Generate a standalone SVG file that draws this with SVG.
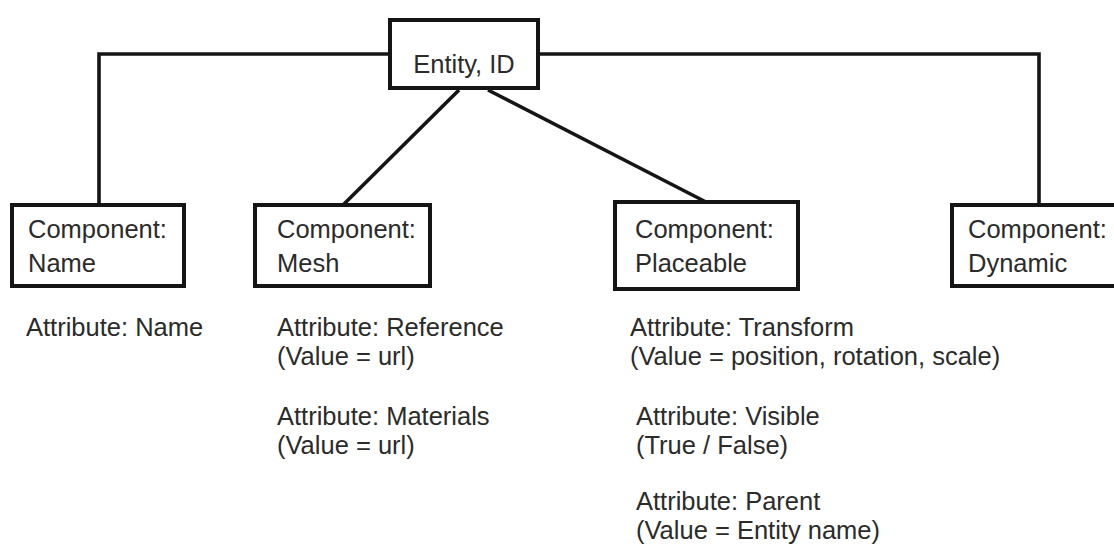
<svg xmlns="http://www.w3.org/2000/svg" width="1114" height="548" viewBox="0 0 1114 548">
<style>
.box{fill:#fff;stroke:#151515;stroke-width:4}
.con{fill:none;stroke:#151515;stroke-width:3.6}
text{font-family:"Liberation Sans",Arial,sans-serif;font-size:25.5px;fill:#2b2b2b}
</style>
<rect width="1114" height="548" fill="#fff"/>
<g id="connectors">
<path class="con" d="M390,54 H99 V205"/>
<path class="con" d="M538,54 H1039 V205"/>
<path class="con" d="M459,90 L343,205"/>
<path class="con" d="M488,90 L706,202"/>
</g>
<g id="entity">
<rect class="box" x="390" y="20" width="148" height="68"/>
<text x="464" y="73" text-anchor="middle">Entity, ID</text>
</g>
<g id="comp-name">
<rect class="box" x="12" y="205" width="172" height="81"/>
<text x="28" y="238">Component:</text>
<text x="28" y="272">Name</text>
</g>
<g id="comp-mesh">
<rect class="box" x="255" y="205" width="175" height="81"/>
<text x="277" y="238">Component:</text>
<text x="277" y="272">Mesh</text>
</g>
<g id="comp-placeable">
<rect class="box" x="615" y="202" width="183" height="87"/>
<text x="635" y="238">Component:</text>
<text x="635" y="272">Placeable</text>
</g>
<g id="comp-dynamic">
<rect class="box" x="952" y="205" width="200" height="81"/>
<text x="968" y="238">Component:</text>
<text x="968" y="272">Dynamic</text>
</g>
<g id="attr-name">
<text x="26" y="336">Attribute: Name</text>
</g>
<g id="attr-mesh">
<text x="277" y="336">Attribute: Reference</text>
<text x="277" y="365">(Value = url)</text>
<text x="277" y="425">Attribute: Materials</text>
<text x="277" y="454">(Value = url)</text>
</g>
<g id="attr-placeable">
<text x="630" y="336">Attribute: Transform</text>
<text x="630" y="365">(Value = position, rotation, scale)</text>
<text x="636" y="425">Attribute: Visible</text>
<text x="636" y="454">(True / False)</text>
<text x="636" y="510">Attribute: Parent</text>
<text x="636" y="539">(Value = Entity name)</text>
</g>
</svg>
